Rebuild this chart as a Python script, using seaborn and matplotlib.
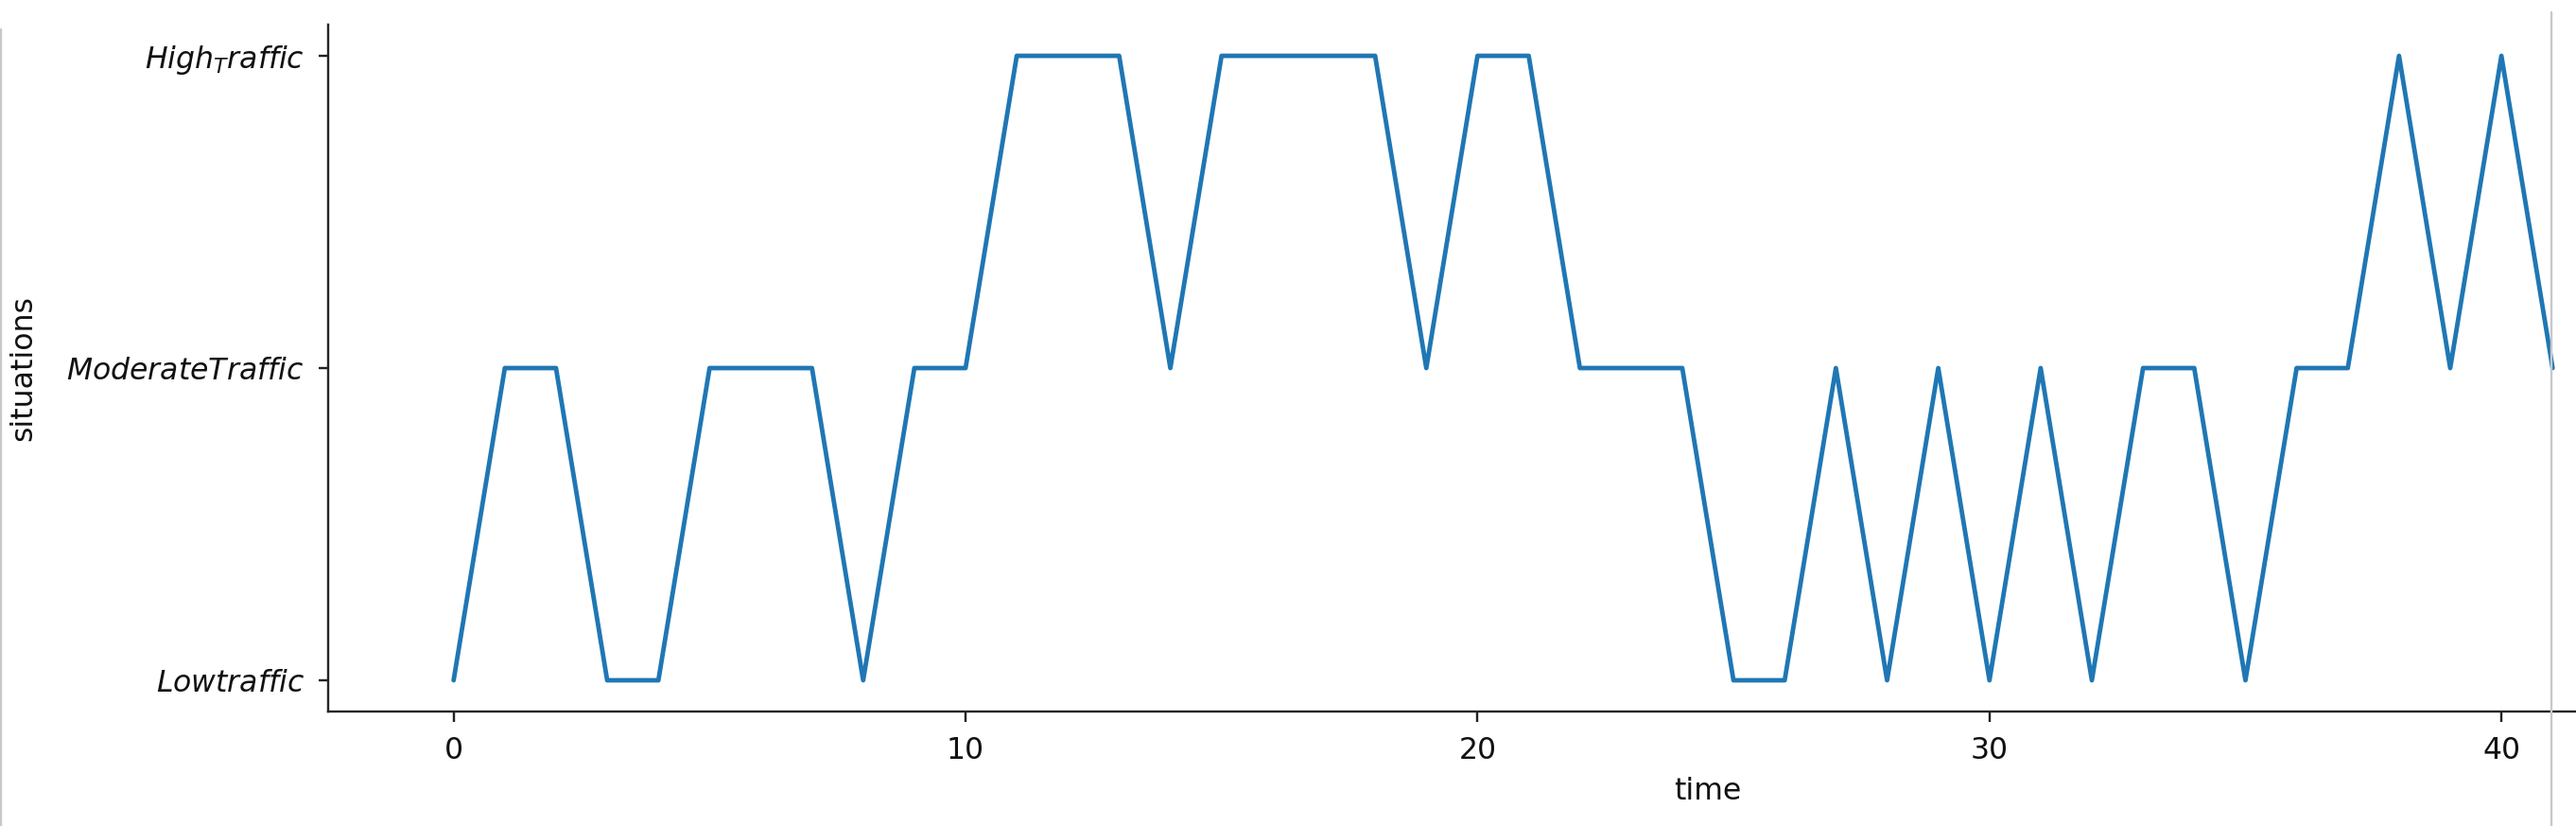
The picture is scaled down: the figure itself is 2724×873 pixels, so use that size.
import numpy as np
import pandas as pd
import matplotlib
matplotlib.use("Agg")
import matplotlib.pyplot as plt
from matplotlib.lines import Line2D
import seaborn as sns

# niveles de trafico (orden de abajo hacia arriba)
categories = ["$Low traffic$", "$Moderate Traffic$", "$High_Traffic$"]

# situacion observada en cada instante (0 = low, 1 = moderate, 2 = high)
time = list(range(42))
situations = [0, 1, 1, 0, 0, 1, 1, 1, 0, 1,
              1, 2, 2, 2, 1, 2, 2, 2, 2, 1,
              2, 2, 1, 1, 1, 0, 0, 1, 0, 1,
              0, 1, 0, 1, 1, 0, 1, 1, 2, 1,
              2, 1]
xticks = [0, 10, 20, 30, 40]

df = pd.DataFrame({"time": time, "situations": situations})

sns.set_style("ticks")
plt.rcParams["font.family"] = ["DejaVu Sans"]
plt.rcParams["font.size"] = 10.5

fig = plt.figure(figsize=(2724 / 216, 873 / 216), dpi=216)
# el eje sigue mas alla del borde derecho (captura recortada)
ax = fig.add_axes([0.1274, 0.1386, 1.0712, 0.8316])

sns.lineplot(data=df, x="time", y="situations", color="#1f77b4", linewidth=1.6, ax=ax)

ax.set_xlim(-2.45, 51.45)
ax.set_ylim(-0.1, 2.1)
ax.set_xticks(xticks)
ax.set_yticks([0, 1, 2])
ax.set_yticklabels(categories)
ax.tick_params(colors="#222222", labelcolor="#111111", pad=5)
ax.set_xlabel("time", color="#111111")
ax.set_ylabel("situations", color="#111111")
ax.yaxis.set_label_coords(-0.1052, 0.5)
sns.despine(ax=ax)

# bordes grises de la captura
fig.add_artist(Line2D([0.0005, 0.0005], [0.0, 0.965], transform=fig.transFigure, color="#c8c8c8", lw=0.8))
fig.add_artist(Line2D([0.9905, 0.9905], [0.0, 0.985], transform=fig.transFigure, color="#c8c8c8", lw=0.8))

fig.savefig("out.png", dpi=216)
